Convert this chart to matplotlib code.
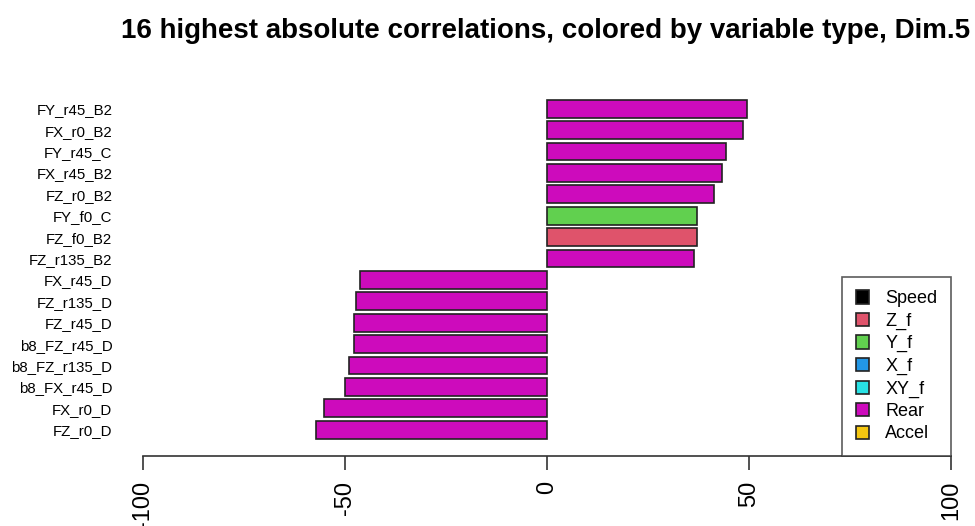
import matplotlib
matplotlib.use('Agg')
import matplotlib.pyplot as plt
from matplotlib.patches import Patch

plt.rcParams['font.family'] = ['Liberation Sans', 'DejaVu Sans']

# bottom to top, as drawn by the R barplot
names = ['FZ_r0_D', 'FX_r0_D', 'b8_FX_r45_D', 'b8_FZ_r135_D', 'b8_FZ_r45_D',
         'FZ_r45_D', 'FZ_r135_D', 'FX_r45_D', 'FZ_r135_B2', 'FZ_f0_B2',
         'FY_f0_C', 'FZ_r0_B2', 'FX_r45_B2', 'FY_r45_C', 'FX_r0_B2', 'FY_r45_B2']
values = [-57.3, -55.1, -50.1, -49.0, -47.8, -47.9, -47.3, -46.2,
          36.5, 37.2, 37.1, 41.4, 43.2, 44.3, 48.4, 49.4]
types = ['Rear', 'Rear', 'Rear', 'Rear', 'Rear', 'Rear', 'Rear', 'Rear',
         'Rear', 'Z_f', 'Y_f', 'Rear', 'Rear', 'Rear', 'Rear', 'Rear']

legend_names = ['Speed', 'Z_f', 'Y_f', 'X_f', 'XY_f', 'Rear', 'Accel']
legend_colors = ['#000000', '#DF536B', '#61D04F', '#2297E6', '#28E2E5', '#CD0BBC', '#F5C710']
type_color = dict(zip(legend_names, legend_colors))

fig = plt.figure(figsize=(9.75, 5.26), dpi=100)
ax = fig.add_axes([0.1467, 0.1331, 0.8287, 0.7034])

# R barplot spacing: width 1, space 0.2
pos = [0.2 + 1.2 * i + 0.5 for i in range(len(values))]
ax.barh(pos, values, height=1.0, color=[type_color[t] for t in types],
        edgecolor='#222222', linewidth=1.2)

top = 0.2 + 1.2 * len(values) - 0.2
ax.set_ylim(-0.04 * top, top * 1.04)
ax.set_xlim(-100, 100)

ax.set_yticks(pos)
ax.set_yticklabels(names, fontsize=10.8)
ax.tick_params(axis='y', length=0, pad=22)

ax.set_xticks([-100, -50, 0, 50, 100])
ax.set_xticklabels(['-100', '-50', '0', '50', '100'], rotation=90, fontsize=17)
ax.tick_params(axis='x', length=10, width=1.2, pad=8, color='#333333')

for s in ['left', 'top', 'right']:
    ax.spines[s].set_visible(False)
ax.spines['bottom'].set_linewidth(1.2)
ax.spines['bottom'].set_color('#333333')

handles = [Patch(facecolor=c, edgecolor='#222222', linewidth=1.2) for c in legend_colors]
leg = ax.legend(handles, legend_names, loc='lower right', borderaxespad=0,
                fontsize=13, frameon=True, fancybox=False, handlelength=0.75,
                handleheight=0.75, labelspacing=0.3, borderpad=0.75, handletextpad=0.9)
leg.get_frame().set_edgecolor('#333333')
leg.get_frame().set_linewidth(1.2)

fig.text(0.56, 0.928, '16 highest absolute correlations, colored by variable type, Dim.5',
         ha='center', va='baseline', fontsize=20, fontweight='bold')

fig.savefig('out.png', dpi=100)
